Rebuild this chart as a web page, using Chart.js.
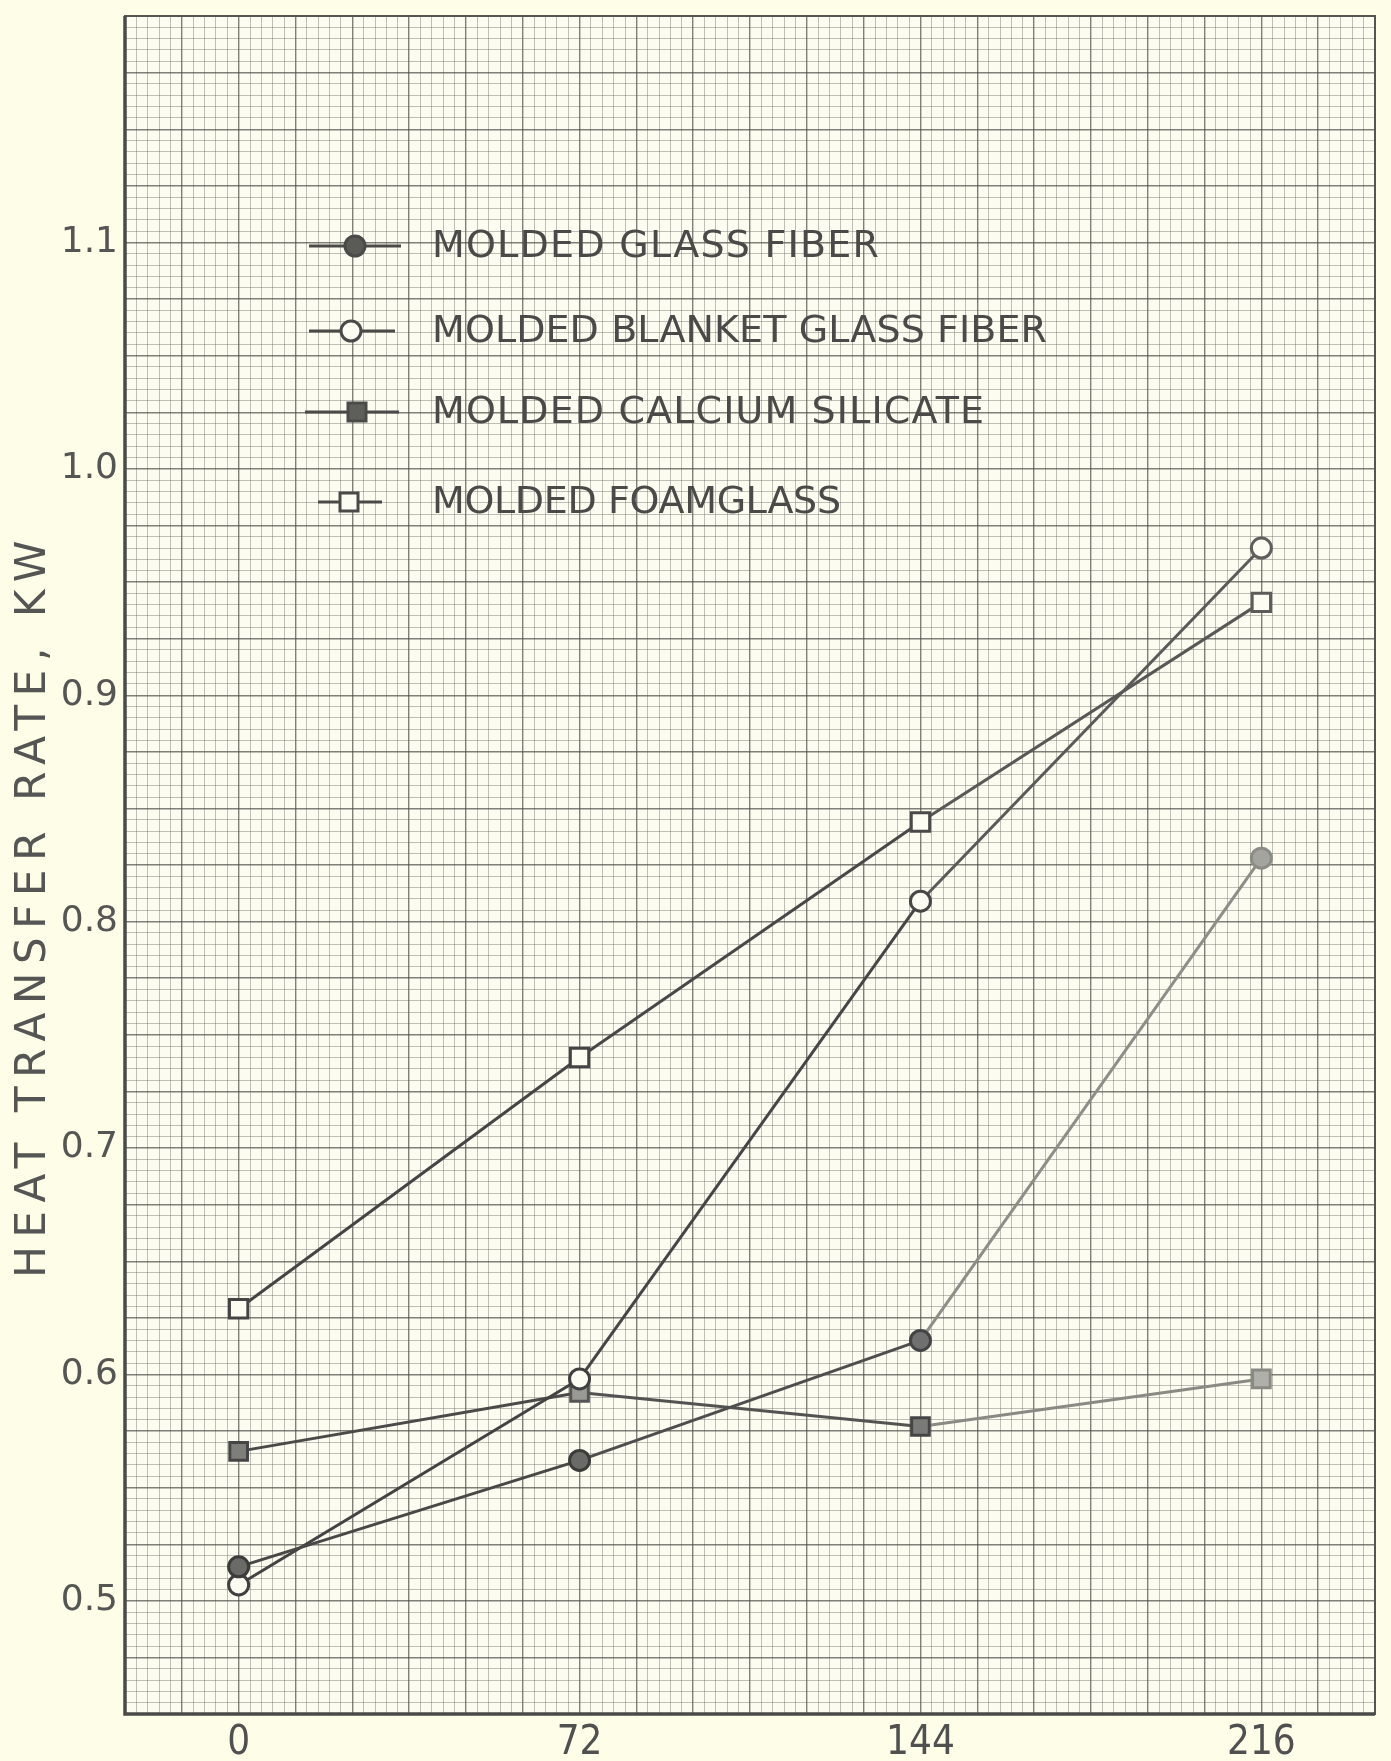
<!DOCTYPE html>
<html>
<head>
<meta charset="utf-8">
<script src="https://cdn.jsdelivr.net/npm/chart.js@4.4.1/dist/chart.umd.min.js"></script>
<style>
  html, body { margin: 0; padding: 0; background: #fdfde8; }
  #wrap { width: 1391px; height: 1761px; position: relative; }
</style>
</head>
<body>
<div id="wrap"><canvas id="chart"></canvas></div>
<script>
// values (hours vs kW)
const hours = [0, 72, 144, 216]
const glassFiber = [0.515, 0.562, 0.615, 0.828]
const blanketGlassFiber = [0.507, 0.598, 0.809, 0.965]
const calciumSilicate = [0.566, 0.592, 0.577, 0.598]
const foamglass = [0.629, 0.740, 0.844, 0.941]

const seriesNames = ['MOLDED GLASS FIBER', 'MOLDED BLANKET GLASS FIBER', 'MOLDED CALCIUM SILICATE', 'MOLDED FOAMGLASS']
const xTickValues = [0, 72, 144, 216]
const xTickLabels = ['0', '72', '144', '216']
const yTickValues = [0.5, 0.6, 0.7, 0.8, 0.9, 1.0, 1.1]
const yTickLabels = ['0.5', '0.6', '0.7', '0.8', '0.9', '1.0', '1.1']
const yTitle = 'HEAT TRANSFER RATE, KW'

const X_MIN = -24, X_MAX = 240, X_STEP = 2.4
const Y_MIN = 0.45, Y_MAX = 1.2, Y_STEP = 0.005

const INK = '#4a4a48'
const MAJOR = 'rgba(75,75,68,0.7)'
const MINOR = 'rgba(100,100,92,0.4)'

// graph paper ruling, 5 small squares to a heavy line
function ruling(min, max, step) {
  const out = []
  const n = Math.round((max - min) / step)
  for (let i = 0; i <= n; i++) out.push(+(min + i * step).toFixed(4))
  return out
}

function labelFor(values, labels, v) {
  const i = values.findIndex(t => Math.abs(t - v) < 1e-6)
  return i < 0 ? '' : labels[i]
}

const pts = arr => hours.map((h, i) => ({ x: h, y: arr[i] }))

// right side of the sheet is faded
const segColors = [
  ['#484846', '#4e4e4e', '#8e8e88'],
  ['#434343', '#464646', '#5a5a58'],
  ['#4a4a48', '#535351', '#8a8a84'],
  ['#454545', '#484848', '#585856']
]

function makeSet(i, data, style) {
  return Object.assign({
    label: seriesNames[i],
    data: pts(data),
    borderWidth: 3,
    borderColor: INK,
    segment: { borderColor: c => segColors[i][c.p0DataIndex] },
    pointBorderWidth: 3,
    tension: 0,
    clip: false
  }, style)
}

const datasets = [
  makeSet(0, glassFiber, {
    pointStyle: 'circle', pointRadius: 10,
    pointBackgroundColor: ['#6a6a66', '#6a6a66', '#707070', '#a4a49e'],
    pointBorderColor: ['#3c3c3a', '#3c3c3a', '#444', '#8c8c86']
  }),
  makeSet(1, blanketGlassFiber, {
    pointStyle: 'circle', pointRadius: 10,
    pointBackgroundColor: '#fcfcf2',
    pointBorderColor: ['#404040', '#404040', '#474747', '#5e5e5c']
  }),
  makeSet(2, calciumSilicate, {
    pointStyle: 'rect', pointRadius: 12.5,
    pointBackgroundColor: ['#7e7e7a', '#9a9a94', '#7a7a76', '#b0b0aa'],
    pointBorderColor: ['#454545', '#555', '#454545', '#8a8a84']
  }),
  makeSet(3, foamglass, {
    pointStyle: 'rect', pointRadius: 13,
    pointBackgroundColor: '#fcfcf2',
    pointBorderColor: ['#444', '#444', '#4a4a4a', '#5c5c5a']
  })
]

function fitText(ctx, text, width) {
  ctx.letterSpacing = '0px'
  const w = ctx.measureText(text).width
  ctx.letterSpacing = ((width - w) / (text.length - 1)) + 'px'
}

const paper = {
  id: 'paper',
  beforeDraw(chart) {
    const { ctx, chartArea: a } = chart
    ctx.save()
    ctx.fillStyle = '#fdfde8'
    ctx.fillRect(0, 0, chart.width, chart.height)
    ctx.fillStyle = '#fcfcf1'
    ctx.fillRect(a.left, a.top, a.right - a.left, a.bottom - a.top)
    ctx.restore()
  },
  beforeDatasetsDraw(chart) {
    const { ctx, chartArea: a } = chart
    ctx.save()
    ctx.strokeStyle = '#555552'
    ctx.lineWidth = 2
    ctx.strokeRect(a.left, a.top, a.right - a.left, a.bottom - a.top)
    ctx.strokeStyle = INK
    ctx.lineWidth = 3.5
    ctx.beginPath()
    ctx.moveTo(a.left, a.top)
    ctx.lineTo(a.left, a.bottom)
    ctx.lineTo(a.right, a.bottom)
    ctx.stroke()
    ctx.restore()
  },
  afterDraw(chart) {
    const { ctx, chartArea: a } = chart
    ctx.save()

    // axis title
    ctx.fillStyle = '#555553'
    ctx.font = '42px "DejaVu Sans"'
    ctx.textAlign = 'center'
    ctx.textBaseline = 'middle'
    ctx.translate(34, 905)
    ctx.rotate(-Math.PI / 2)
    fitText(ctx, yTitle, 737)
    ctx.fillText(yTitle, 0, 0)
    ctx.restore()

    // legend drawn on the sheet
    const rows = [
      { dy: 230, l: 309, r: 401, m: 355, shape: 'dot', w: 447 },
      { dy: 315, l: 309, r: 395, m: 351, shape: 'ring', w: 615 },
      { dy: 396, l: 305, r: 399, m: 357, shape: 'block', w: 552 },
      { dy: 486, l: 318, r: 382, m: 349, shape: 'box', w: 409 }
    ]
    ctx.save()
    rows.forEach((row, i) => {
      const y = a.top + row.dy
      ctx.strokeStyle = INK
      ctx.lineWidth = 3
      ctx.beginPath()
      ctx.moveTo(row.l, y)
      ctx.lineTo(row.r, y)
      ctx.stroke()
      ctx.lineWidth = 3
      ctx.beginPath()
      if (row.shape === 'dot' || row.shape === 'ring') {
        ctx.arc(row.m, y, 10, 0, Math.PI * 2)
        ctx.fillStyle = row.shape === 'dot' ? '#5a5a56' : '#fcfcf2'
      } else {
        ctx.rect(row.m - 9, y - 9, 18, 18)
        ctx.fillStyle = row.shape === 'block' ? '#5e5e5a' : '#fcfcf2'
      }
      ctx.fill()
      ctx.stroke()

      ctx.fillStyle = '#4a4a48'
      ctx.font = '38px "DejaVu Sans"'
      ctx.textAlign = 'left'
      ctx.textBaseline = 'middle'
      fitText(ctx, seriesNames[i], row.w)
      ctx.fillText(seriesNames[i], 432, y + 1)
    })
    ctx.restore()
  }
}

const xGrid = ruling(X_MIN, X_MAX, X_STEP)
const yGrid = ruling(Y_MIN, Y_MAX, Y_STEP)

new Chart(document.getElementById('chart'), {
  type: 'line',
  data: { datasets },
  plugins: [paper],
  options: {
    responsive: true,
    maintainAspectRatio: false,
    animation: false,
    layout: { padding: { top: 8, right: 15, bottom: 0, left: 0 } },
    plugins: { legend: { display: false }, tooltip: { enabled: false } },
    scales: {
      x: {
        type: 'linear',
        min: X_MIN,
        max: X_MAX,
        afterBuildTicks: s => { s.ticks = xGrid.map(v => ({ value: v })) },
        afterFit: s => { s.height = 47; s.paddingLeft = 0; s.paddingRight = 0 },
        grid: {
          color: c => c.index % 5 === 0 ? MAJOR : MINOR,
          lineWidth: c => c.index % 5 === 0 ? 1.4 : 1,
          drawTicks: false
        },
        border: { display: false },
        ticks: {
          autoSkip: false,
          maxRotation: 0,
          minRotation: 0,
          padding: 6,
          color: '#505050',
          font: { family: '"DejaVu Sans Condensed", "DejaVu Sans"', size: 40 },
          callback: v => labelFor(xTickValues, xTickLabels, v)
        }
      },
      y: {
        type: 'linear',
        min: Y_MIN,
        max: Y_MAX,
        afterBuildTicks: s => { s.ticks = yGrid.map(v => ({ value: v })) },
        afterFit: s => { s.width = 125; s.paddingTop = 0; s.paddingBottom = 0 },
        grid: {
          color: c => c.index % 5 === 0 ? MAJOR : MINOR,
          lineWidth: c => c.index % 5 === 0 ? 1.4 : 1,
          drawTicks: false
        },
        border: { display: false },
        ticks: {
          autoSkip: false,
          padding: 7,
          color: '#555553',
          font: { family: '"DejaVu Sans"', size: 36 },
          callback: v => labelFor(yTickValues, yTickLabels, v)
        }
      }
    }
  }
})
</script>
</body>
</html>
